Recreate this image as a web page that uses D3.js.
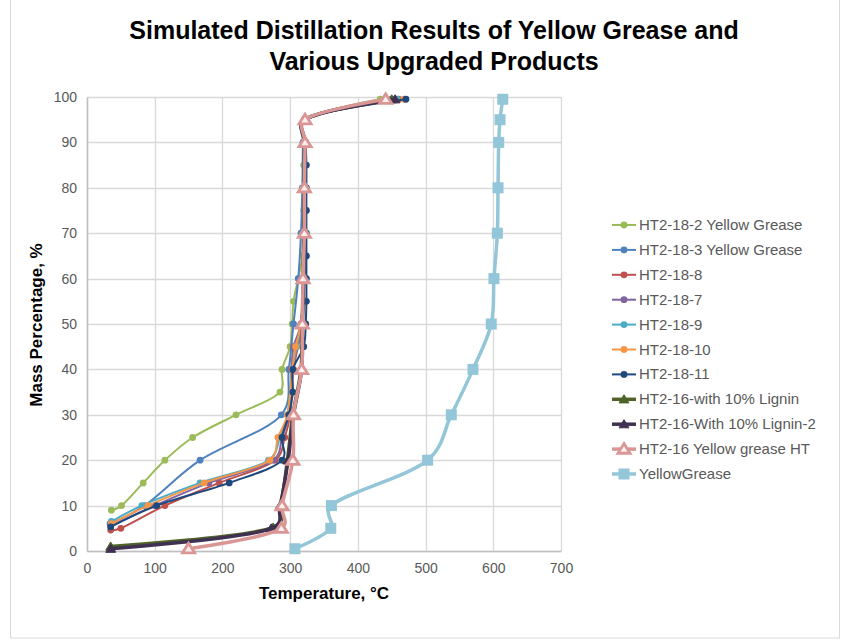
<!DOCTYPE html>
<html>
<head>
<meta charset="utf-8">
<script src="https://cdn.jsdelivr.net/npm/d3@7"></script>
<style>
  html, body { margin: 0; padding: 0; background: #fff; }
  svg { display: block; font-family: "Liberation Sans", Arial, sans-serif; }
</style>
</head>
<body>
<svg id="chart" width="848" height="643"></svg>
<script>
// Simulated distillation curves: [temperature °C, mass %]
const ht2_18_2 = [[36,9],[51,10],[83,15],[115,20],[156,25],[220,30],[285,35],[288,40],[300,45],[303,50],[305,55],[312,60],[318,65],[319,70],[320,75],[320,80],[320,85],[320,90],[321,95],[433,99.5]];
const ht2_18_3 = [[34,6],[85,10],[167,20],[287,30],[298,40],[305,50],[312,60],[316,70],[318,80],[319,90],[321,95],[450,99.5]];
const ht2_18_8 = [[35,4.6],[50,5],[115,10],[195,15],[278,20],[292,25],[300,30],[305,40],[318,50],[320,60],[321,70],[322,80],[322,90],[322,95],[460,99.5]];
const ht2_18_7 = [[35,5.5],[100,10],[180,15],[275,20],[288,25],[298,30],[302,40],[305,45],[316,50],[320,60],[321,70],[322,80],[322,90],[322,95],[455,99.5]];
const ht2_18_9 = [[36,6.5],[81,10],[167,15],[268,20],[285,25],[296,30],[303,40],[310,45],[316,50],[320,60],[321,70],[322,80],[322,90],[322,95],[458,99.5]];
const ht2_18_10 = [[36,6],[90,10],[173,15],[270,20],[282,25],[296,30],[303,40],[308,45],[316,50],[320,60],[321,70],[322,80],[322,90],[322,95],[468,99.5]];
const ht2_18_11 = [[35,5.3],[103,10],[210,15],[288,20],[288,25],[298,30],[304,35],[304,40],[320,45],[323,50],[324,55],[324,60],[324,65],[324,70],[324,75],[324,80],[324,85],[323,90],[322,95],[471,99.5]];
const ht2_16_lignin = [[35,1],[275,5.2],[286,10],[296,20],[304,30],[316,40],[318,50],[319,60],[320,70],[321,80],[321,90],[322,95],[450,99.5]];
const ht2_16_lignin2 = [[35,0.5],[272,5],[285,10],[297,20],[305,30],[317,40],[318,50],[320,60],[321,70],[321,80],[322,90],[322,95],[455,99.5]];
const ht2_16_ht = [[150,0.5],[287,5],[288,10],[304,20],[305,30],[317,40],[318,50],[319,60],[321,70],[321,80],[322,90],[322,95],[441,99.5]];
const yellowGrease = [[307,0.5],[360,5],[361,10],[503,20],[538,30],[570,40],[597,50],[601,60],[606,70],[607,80],[608,90],[610,95],[614,99.5]];

const xTicks = [0,100,200,300,400,500,600,700];
const yTicks = [0,10,20,30,40,50,60,70,80,90,100];

const series = [
  { name: "HT2-18-2 Yellow Grease", data: ht2_18_2, color: "#9BBB59", width: 2, marker: "circle", size: 3.4 },
  { name: "HT2-18-3 Yellow Grease", data: ht2_18_3, color: "#4F81BD", width: 2, marker: "circle", size: 3.4 },
  { name: "HT2-18-8", data: ht2_18_8, color: "#C0504D", width: 2, marker: "circle", size: 3.4 },
  { name: "HT2-18-7", data: ht2_18_7, color: "#8064A2", width: 2, marker: "circle", size: 3.4 },
  { name: "HT2-18-9", data: ht2_18_9, color: "#4BACC6", width: 2, marker: "circle", size: 3.4 },
  { name: "HT2-18-10", data: ht2_18_10, color: "#F79646", width: 2, marker: "circle", size: 3.4 },
  { name: "HT2-18-11", data: ht2_18_11, color: "#1F497D", width: 2, marker: "circle", size: 3.4 },
  { name: "HT2-16-with 10% Lignin", data: ht2_16_lignin, color: "#4F6228", width: 3.5, marker: "triangle", size: 4.5 },
  { name: "HT2-16-With 10% Lignin-2", data: ht2_16_lignin2, color: "#403152", width: 3.5, marker: "triangle", size: 4.5 },
  { name: "HT2-16 Yellow grease HT", data: ht2_16_ht, color: "#D99694", width: 3.5, marker: "triangleOpen", size: 5.5 },
  { name: "YellowGrease", data: yellowGrease, color: "#93C6D8", width: 3.5, marker: "square", size: 5.5 }
];

const svg = d3.select("#chart");
const plot = { left: 87, right: 561, top: 97, bottom: 551 };

const x = d3.scaleLinear().domain([0, 700]).range([plot.left, plot.right]);
const y = d3.scaleLinear().domain([0, 100]).range([plot.bottom, plot.top]);

// Outer chart frame
svg.append("rect")
  .attr("x", 10.5).attr("y", -2).attr("width", 829).attr("height", 640)
  .attr("fill", "#fff").attr("stroke", "#d9d9d9").attr("stroke-width", 1);

// Title
const title = svg.append("text")
  .attr("text-anchor", "middle").attr("font-weight", "bold")
  .attr("font-size", 25).attr("fill", "#000");
title.append("tspan").attr("x", 434).attr("y", 39).text("Simulated Distillation Results of Yellow Grease and");
title.append("tspan").attr("x", 434).attr("y", 70).text("Various Upgraded Products");

// Gridlines
svg.append("g").selectAll("line").data(yTicks).join("line")
  .attr("x1", plot.left).attr("x2", plot.right)
  .attr("y1", d => Math.round(y(d)) + 0.5).attr("y2", d => Math.round(y(d)) + 0.5)
  .attr("stroke", "#d9d9d9").attr("stroke-width", 1.3);
svg.append("g").selectAll("line").data(xTicks).join("line")
  .attr("y1", plot.top).attr("y2", plot.bottom)
  .attr("x1", d => Math.round(x(d)) + 0.5).attr("x2", d => Math.round(x(d)) + 0.5)
  .attr("stroke", "#d9d9d9").attr("stroke-width", 1.3);

// Axes
const xAxis = svg.append("g").attr("transform", `translate(0,${plot.bottom})`)
  .call(d3.axisBottom(x).tickValues(xTicks).tickSize(0).tickPadding(12));
const yAxis = svg.append("g").attr("transform", `translate(${plot.left},0)`)
  .call(d3.axisLeft(y).tickValues(yTicks).tickSize(0).tickPadding(10));
[xAxis, yAxis].forEach(a => {
  a.select(".domain").attr("stroke", "#bfbfbf").attr("stroke-width", 1.5);
  a.selectAll("text").attr("font-size", 14).attr("fill", "#595959")
    .attr("font-family", "'Liberation Sans', Arial, sans-serif");
});

// Axis titles
svg.append("text").attr("x", 324).attr("y", 599).attr("text-anchor", "middle")
  .attr("font-weight", "bold").attr("font-size", 17).text("Temperature, °C");
svg.append("text").attr("transform", "translate(42,325) rotate(-90)").attr("text-anchor", "middle")
  .attr("font-weight", "bold").attr("font-size", 17).text("Mass Percentage, %");

// Marker drawing
function drawMarker(g, s, cx, cy) {
  const r = s.size;
  if (s.marker === "circle") {
    g.append("circle").attr("cx", cx).attr("cy", cy).attr("r", r).attr("fill", s.color);
  } else if (s.marker === "triangle") {
    g.append("path").attr("d", `M${cx},${cy - r}L${cx + r * 1.1},${cy + r * 0.8}L${cx - r * 1.1},${cy + r * 0.8}Z`)
      .attr("fill", s.color).attr("stroke", s.color).attr("stroke-width", 1);
  } else if (s.marker === "triangleOpen") {
    g.append("path").attr("d", `M${cx},${cy - r}L${cx + r * 1.1},${cy + r * 0.75}L${cx - r * 1.1},${cy + r * 0.75}Z`)
      .attr("fill", "#fbeeee").attr("stroke", s.color).attr("stroke-width", 2.8).attr("stroke-linejoin", "miter");
  } else if (s.marker === "square") {
    g.append("rect").attr("x", cx - r).attr("y", cy - r).attr("width", 2 * r).attr("height", 2 * r)
      .attr("fill", s.color);
  }
}

// Smoothed connecting lines
const line = d3.line().x(d => x(d[0])).y(d => y(d[1])).curve(d3.curveCatmullRom.alpha(0.25));

series.forEach(s => {
  const g = svg.append("g");
  g.append("path").datum(s.data).attr("d", line)
    .attr("fill", "none").attr("stroke", s.color).attr("stroke-width", s.width)
    .attr("stroke-linejoin", "round").attr("stroke-linecap", "round");
  s.data.forEach(d => drawMarker(g, s, x(d[0]), y(d[1])));
});

// Legend
const legend = svg.append("g");
series.forEach((s, i) => {
  const ly = 225 + i * 24.9;
  const g = legend.append("g");
  g.append("line").attr("x1", 612).attr("x2", 636).attr("y1", ly).attr("y2", ly)
    .attr("stroke", s.color).attr("stroke-width", s.width);
  drawMarker(g, s, 624, ly);
  g.append("text").attr("x", 639).attr("y", ly + 5).attr("font-size", 15)
    .attr("fill", "#595959").text(s.name);
});
</script>
</body>
</html>
